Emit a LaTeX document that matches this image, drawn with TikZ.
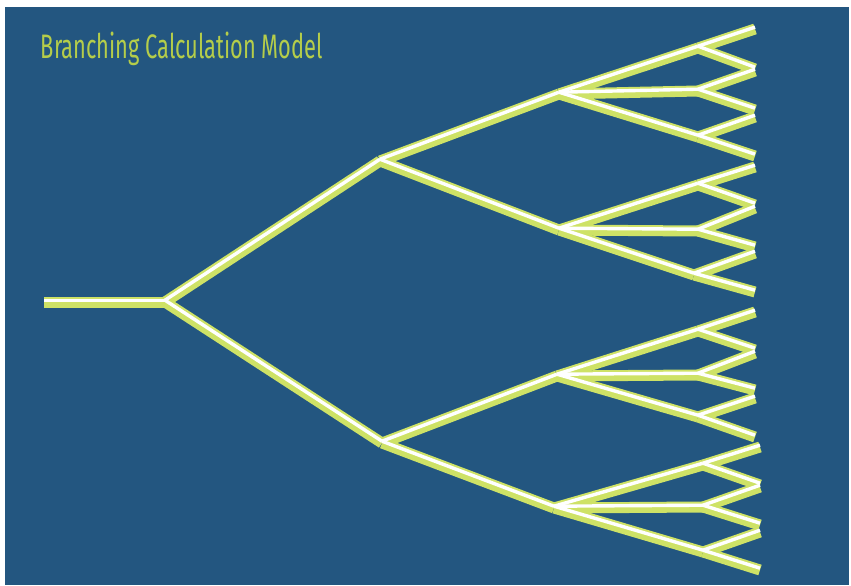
\documentclass[tikz,border=0pt]{standalone}
\usepackage{fontspec}
\newfontfamily\titlefont{Fira Sans}
\definecolor{bgblue}{RGB}{35,86,128}
\definecolor{lgreen}{RGB}{206,226,102}
\definecolor{tgreen}{RGB}{181,205,74}
\begin{document}
\begin{tikzpicture}[x=1pt,y=-1pt,
  greenline/.style={draw=lgreen,line width=11pt},
  whiteline/.style={draw=white,line width=3.4pt}]
\useasboundingbox[fill=white] (0,0) rectangle (851,586);
\fill[bgblue] (5,7) rectangle (849,585);
\node[anchor=base west,inner sep=0pt,text=tgreen] (title) at (40.7,59)
  {\resizebox{282pt}{26.5pt}{\titlefont Branching Calculation Model}};
% nodes
\coordinate (r0) at (44,302);
\coordinate (n1) at (165,302);
\coordinate (a) at (380,161);
\coordinate (b) at (382,443);
\coordinate (aa) at (559,94);
\coordinate (ab) at (559,230);
\coordinate (ba) at (557,376);
\coordinate (bb) at (554,508);
\coordinate (aa1) at (698,48);
\coordinate (aa2) at (698,91);
\coordinate (aa3) at (698,137);
\coordinate (ab1) at (698,185);
\coordinate (ab2) at (698,231);
\coordinate (ab3) at (694,275);
\coordinate (ba1) at (698,331);
\coordinate (ba2) at (698,375);
\coordinate (ba3) at (698,417);
\coordinate (bb1) at (703,465);
\coordinate (bb2) at (703,507);
\coordinate (bb3) at (703,552);
\coordinate (aa1u) at (755,29);  \coordinate (aa1d) at (755,69);
\coordinate (aa2u) at (755,71);  \coordinate (aa2d) at (755,110);
\coordinate (aa3u) at (755,117); \coordinate (aa3d) at (755,156);
\coordinate (ab1u) at (755,167); \coordinate (ab1d) at (755,205);
\coordinate (ab2u) at (755,208); \coordinate (ab2d) at (755,247);
\coordinate (ab3u) at (755,253); \coordinate (ab3d) at (755,292);
\coordinate (ba1u) at (755,312); \coordinate (ba1d) at (755,350);
\coordinate (ba2u) at (755,353); \coordinate (ba2d) at (755,390);
\coordinate (ba3u) at (755,398); \coordinate (ba3d) at (755,437);
\coordinate (bb1u) at (760,447); \coordinate (bb1d) at (760,485);
\coordinate (bb2u) at (760,487); \coordinate (bb2d) at (760,525);
\coordinate (bb3u) at (760,532); \coordinate (bb3d) at (760,570);
\def\edges{r0/n1,n1/a,n1/b,a/aa,a/ab,b/ba,b/bb,
  aa/aa1,aa/aa2,aa/aa3,ab/ab1,ab/ab2,ab/ab3,
  ba/ba1,ba/ba2,ba/ba3,bb/bb1,bb/bb2,bb/bb3,
  aa1/aa1u,aa1/aa1d,aa2/aa2u,aa2/aa2d,aa3/aa3u,aa3/aa3d,
  ab1/ab1u,ab1/ab1d,ab2/ab2u,ab2/ab2d,ab3/ab3u,ab3/ab3d,
  ba1/ba1u,ba1/ba1d,ba2/ba2u,ba2/ba2d,ba3/ba3u,ba3/ba3d,
  bb1/bb1u,bb1/bb1d,bb2/bb2u,bb2/bb2d,bb3/bb3u,bb3/bb3d}
\foreach \s/\t in \edges {\draw[greenline] (\s) -- (\t);}
\begin{scope}[transform canvas={yshift=1.8pt}]
\foreach \s/\t in \edges {\draw[whiteline] (\s) -- (\t);}
\end{scope}
\end{tikzpicture}
\end{document}
